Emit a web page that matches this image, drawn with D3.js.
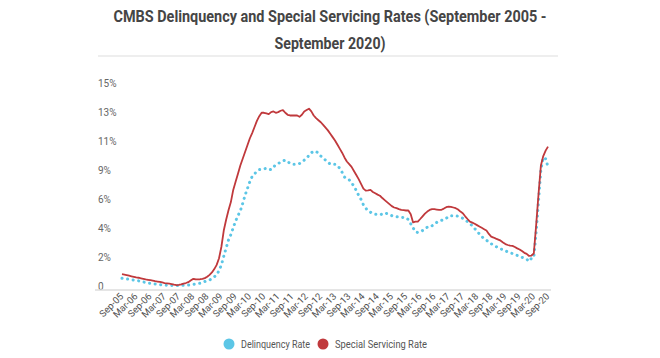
<!DOCTYPE html>
<html>
<head>
<meta charset="utf-8">
<script src="https://cdn.jsdelivr.net/npm/d3@7"></script>
<style>
  body { margin: 0; background: #fff; }
  svg { font-family: Roboto, "Open Sans", sans-serif; }
</style>
</head>
<body>
<svg width="660" height="358"></svg>
<script>
// month labels every 6 months, Sep-05 .. Sep-20
var xTickLabels = ["Sep-05","Mar-06","Sep-06","Mar-07","Sep-07","Mar-08","Sep-08","Mar-09","Sep-09","Mar-10",
  "Sep-10","Mar-11","Sep-11","Mar-12","Sep-12","Mar-13","Sep-13","Mar-14","Sep-14","Mar-15","Sep-15",
  "Mar-16","Sep-16","Mar-17","Sep-17","Mar-18","Sep-18","Mar-19","Sep-19","Mar-20","Sep-20"];
var yTickLabels = ["0","2%","4%","6%","9%","11%","13%","15%"];

// monthly values (%), starting Sep-05
var delinquency = [
  0.57,0.55,0.52,0.50,0.47,0.44,0.41,0.38,0.34,0.30,0.26,0.22,
  0.20,0.18,0.15,0.13,0.10,0.08,0.06,0.05,0.04,0.04,0.03,0.03,
  0.03,0.04,0.05,0.06,0.07,0.09,0.12,0.15,0.18,0.20,0.26,0.33,
  0.40,0.44,0.55,0.68,0.81,1.15,1.56,2.20,2.80,3.40,3.80,4.30,
  4.80,5.20,5.55,6.10,6.70,7.20,7.70,8.10,8.30,8.45,8.60,8.62,
  8.65,8.70,8.62,8.60,8.80,8.95,9.05,9.15,9.25,9.30,9.20,9.05,
  9.00,9.00,9.00,9.05,9.15,9.30,9.45,9.65,9.85,9.95,9.95,9.80,
  9.60,9.45,9.30,9.15,9.00,9.00,9.00,8.90,8.70,8.40,8.05,7.95,
  7.85,7.60,7.40,7.05,6.70,6.40,6.00,5.75,5.55,5.45,5.35,5.30,
  5.28,5.26,5.32,5.40,5.35,5.28,5.20,5.15,5.12,5.10,5.08,5.06,
  5.05,4.90,4.60,4.30,4.00,3.95,4.00,4.10,4.20,4.35,4.45,4.45,
  4.55,4.70,4.80,4.85,4.90,5.00,5.15,5.20,5.20,5.20,5.15,5.08,
  5.00,4.88,4.75,4.60,4.45,4.25,4.05,3.85,3.65,3.50,3.38,3.25,
  3.12,3.02,2.92,2.82,2.74,2.68,2.60,2.52,2.45,2.40,2.33,2.26,
  2.20,2.12,2.04,1.98,1.82,2.05,2.10,4.00,6.30,8.60,9.50,9.40,
  8.80];
var specialServicing = [
  0.87,0.84,0.80,0.76,0.72,0.68,0.64,0.61,0.57,0.53,0.49,0.46,
  0.43,0.40,0.36,0.33,0.30,0.26,0.22,0.20,0.17,0.14,0.10,0.07,
  0.08,0.12,0.18,0.22,0.28,0.40,0.52,0.50,0.49,0.50,0.53,0.58,
  0.68,0.82,1.00,1.25,1.56,2.05,2.90,4.10,4.90,5.60,6.20,7.10,
  7.70,8.30,8.90,9.40,9.90,10.40,10.90,11.30,11.75,12.20,12.55,12.80,
  12.80,12.75,12.70,12.85,12.90,12.80,12.85,12.95,13.00,12.80,12.65,12.60,
  12.60,12.60,12.60,12.50,12.65,12.90,13.00,13.10,12.90,12.60,12.40,12.25,
  12.10,11.90,11.70,11.50,11.25,11.00,10.75,10.45,10.15,9.85,9.50,9.20,
  9.00,8.80,8.50,8.20,7.90,7.55,7.20,7.05,7.06,7.10,6.95,6.85,
  6.75,6.67,6.50,6.35,6.20,6.05,5.90,5.80,5.75,5.68,5.62,5.60,
  5.58,5.58,5.30,4.70,4.75,4.76,4.95,5.15,5.35,5.50,5.62,5.68,
  5.68,5.65,5.62,5.63,5.72,5.82,5.87,5.85,5.80,5.75,5.65,5.50,
  5.38,5.15,4.95,4.76,4.68,4.60,4.50,4.40,4.30,4.20,4.10,3.85,
  3.65,3.58,3.50,3.43,3.35,3.22,3.10,3.03,2.98,2.96,2.88,2.78,
  2.70,2.58,2.45,2.37,2.22,2.25,2.40,4.50,6.80,8.90,9.60,10.00,
  10.30];

var seriesNames = ["Delinquency Rate", "Special Servicing Rate"];
var seriesColors = ["#5cc6e6", "#c0393c"];

var svg = d3.select("svg");

var x = d3.scaleLinear().domain([0, delinquency.length - 1]).range([122, 548]);
var y = d3.scaleLinear().domain([0, 15]).range([286, 83]);

// title
var title = svg.append("g").attr("fill", "#454545").attr("font-weight", "bold").attr("font-size", 16);
title.append("text").attr("x", 330).attr("y", 22).attr("text-anchor", "middle")
    .attr("textLength", 433).attr("lengthAdjust", "spacingAndGlyphs")
    .text("CMBS Delinquency and Special Servicing Rates (September 2005 -");
title.append("text").attr("x", 330).attr("y", 49).attr("text-anchor", "middle")
    .attr("textLength", 111).attr("lengthAdjust", "spacingAndGlyphs")
    .text("September 2020)");

svg.append("line")
    .attr("x1", 98).attr("x2", 558).attr("y1", 56).attr("y2", 56)
    .attr("stroke", "#e8e8e8").attr("stroke-width", 1.5);

// y labels
var yTicks = d3.range(yTickLabels.length).map(function (i) { return 15 * i / (yTickLabels.length - 1); });
svg.append("g").selectAll("text")
    .data(yTicks)
    .enter().append("text")
    .attr("x", 98)
    .attr("y", function (d) { return y(d); })
    .attr("dy", "0.35em")
    .attr("font-size", 10)
    .attr("fill", "#666")
    .text(function (d, i) { return yTickLabels[i]; });

// baseline
svg.append("line")
    .attr("x1", 95).attr("x2", 551).attr("y1", 290).attr("y2", 290)
    .attr("stroke", "#dcdcdc").attr("stroke-width", 1.5);

// x labels
svg.append("g").selectAll("text")
    .data(xTickLabels)
    .enter().append("text")
    .attr("transform", function (d, i) { return "translate(" + (x(i * 6) + 2) + ",297) rotate(-45)"; })
    .attr("text-anchor", "end")
    .attr("font-size", 9.5)
    .attr("fill", "#505050")
    .text(function (d) { return d; });

var line = d3.line()
    .x(function (d, i) { return x(i); })
    .y(function (d) { return y(d); });

svg.append("path")
    .datum(delinquency)
    .attr("d", line)
    .attr("fill", "none")
    .attr("stroke", seriesColors[0])
    .attr("stroke-width", 3)
    .attr("stroke-linecap", "round")
    .attr("stroke-dasharray", "0.1 5.5");

svg.append("path")
    .datum(specialServicing)
    .attr("d", line)
    .attr("fill", "none")
    .attr("stroke", seriesColors[1])
    .attr("stroke-width", 1.8)
    .attr("stroke-linejoin", "round");

// legend
var legendX = [229, 323];
var legendW = [69, 92];
var legend = svg.append("g").selectAll("g")
    .data(seriesNames)
    .enter().append("g")
    .attr("transform", function (d, i) { return "translate(" + legendX[i] + ",344)"; });
legend.append("circle")
    .attr("r", 5.5)
    .attr("fill", function (d, i) { return seriesColors[i]; });
legend.append("text")
    .attr("x", 12)
    .attr("dy", "0.35em")
    .attr("font-size", 10.5)
    .attr("fill", "#555")
    .attr("textLength", function (d, i) { return legendW[i]; })
    .attr("lengthAdjust", "spacingAndGlyphs")
    .text(function (d) { return d; });
</script>
</body>
</html>
